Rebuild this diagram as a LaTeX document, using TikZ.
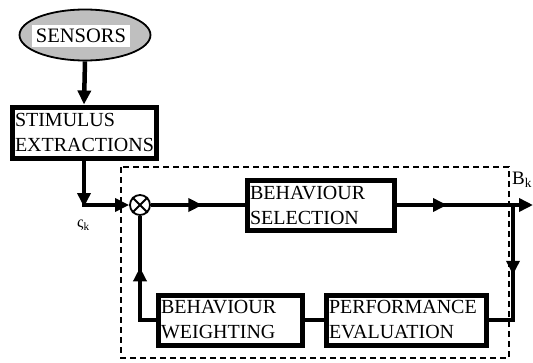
\documentclass[tikz,border=0pt]{standalone}
\usepackage{fontspec}
\setmainfont{Liberation Serif}
\newfontfamily\tnr{Liberation Serif}
\usetikzlibrary{arrows.meta,decorations.markings,shapes.geometric}
\tikzset{
  tip/.tip={Triangle[length=14pt,width=13pt]},
  conn/.style={line width=4.5pt},
  arr/.style={conn,-{tip}},
  midarr/.style={conn,postaction={decorate},decoration={markings,mark=at position #1 with {\arrow{tip}}}},
  blk/.style={draw,line width=5pt,inner xsep=3pt,inner ysep=0pt,align=left,
     font=\tnr\fontsize{20}{25}\selectfont},
}
\begin{document}
\begin{tikzpicture}[x=1pt,y=-1pt]
\useasboundingbox[fill=white] (0,0) rectangle (533,362);
% dashed frame
\draw[line width=1.4pt,dash pattern=on 6pt off 4pt] (121,167) rectangle (509,358);
% sensors
\node[ellipse,draw,line width=1.8pt,fill=black!25,minimum width=131pt,minimum height=51pt,inner sep=0pt] (sens) at (85,35) {};
\node[fill=white,minimum width=98pt,minimum height=22pt,inner sep=0pt,font=\tnr\fontsize{20.5}{24}\selectfont] (senst) at (81,36) {SENSORS};
% blocks
\node[blk,text width=138pt,minimum height=51pt] (stim) at (84,132.5) {STIMULUS\\EXTRACTIONS};
\node[blk,text width=141pt,minimum height=50pt] (sel) at (320.5,205) {BEHAVIOUR\\SELECTION};
\node[blk,text width=138pt,minimum height=50pt] (wgt) at (230,320) {BEHAVIOUR\\WEIGHTING};
\node[blk,text width=154pt,minimum height=50pt] (perf) at (406,320) {PERFORMANCE\\EVALUATION};
% multiplier
\node[circle,draw,line width=1.8pt,minimum size=20pt,inner sep=0pt] (mul) at (140,205) {};
\draw[line width=1.8pt] (mul.north west) -- (mul.south east) (mul.north east) -- (mul.south west);
% coordinates
\coordinate (c1) at (84,205);
\coordinate (out) at (533,205);
\coordinate (br) at (513,205);
\coordinate (c2) at (513,320);
\coordinate (c3) at (140,320);
% connectors
\draw[arr] (sens.south) -- (stim.north);
\draw[arr,shorten >=-2pt] (stim.south) -- (c1);
\draw[arr] ([xshift=-2pt]c1) -- (mul.west);
\draw[midarr=0.55] (mul.east) -- (sel.west);
\draw[arr,postaction={decorate},decoration={markings,mark=at position 0.37 with {\arrow{tip}}}] (sel.east) -- (out);
\draw[midarr=0.5] (br) -- (c2) -- (perf.east);
\draw[line width=4pt] (perf.west) -- (wgt.east);
\draw[midarr=0.57] (wgt.west) -- (c3) -- (mul.south);
% labels
\node[anchor=north west,inner sep=0pt,font=\tnr\fontsize{19}{19}\selectfont] (bk) at (512,172) {B\textsubscript{k}};
\node[anchor=north west,inner sep=0pt,font=\tnr\fontsize{16}{16}\selectfont] (sk) at (77,220) {ς\textsubscript{k}};
\end{tikzpicture}
\end{document}
